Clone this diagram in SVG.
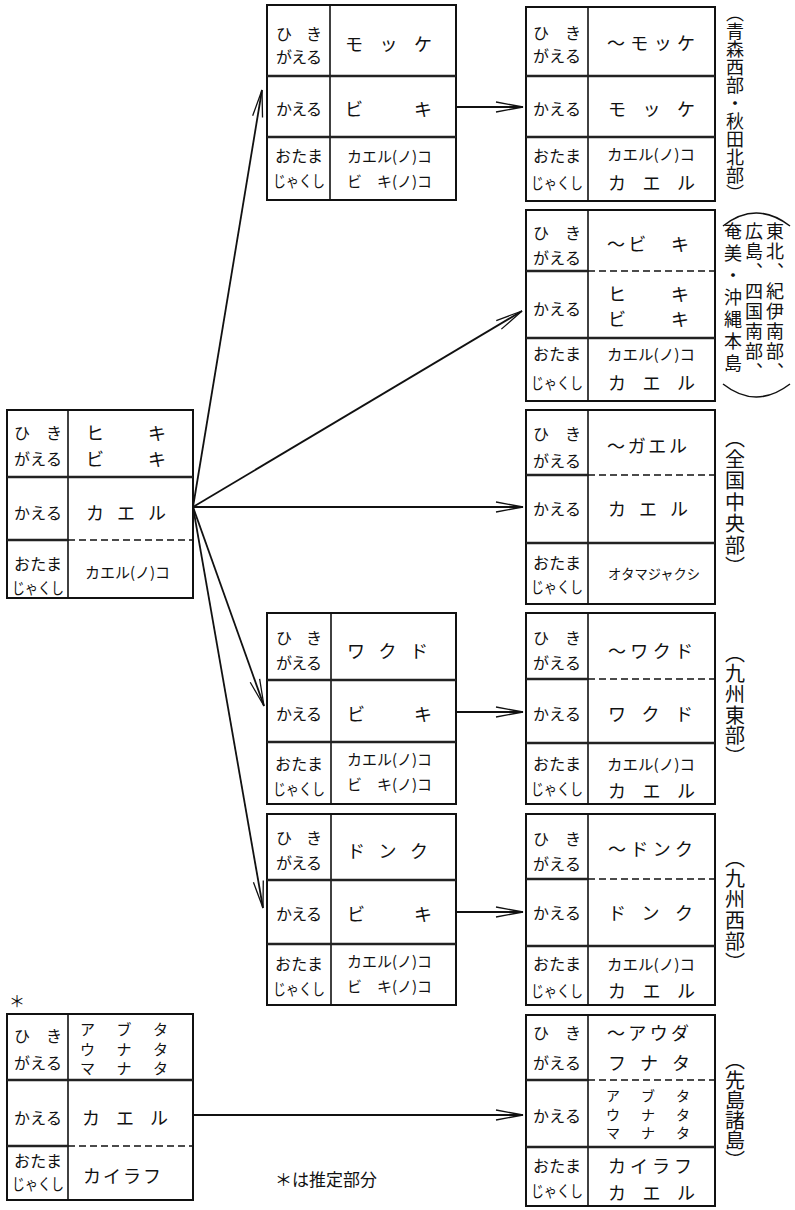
<svg xmlns="http://www.w3.org/2000/svg" width="795" height="1210" viewBox="0 0 795 1210">
<defs>
<marker id="ah" viewBox="-30 -7 32 14" refX="0" refY="0" markerWidth="32" markerHeight="14" markerUnits="userSpaceOnUse" orient="auto">
<path d="M-27,-5 L0,0 L-27,5" fill="none" stroke="#111" stroke-width="1.3"/>
</marker>
<style>
text{font-family:"Noto Sans CJK JP","Noto Sans CJK SC",sans-serif;fill:#111;dominant-baseline:central}
.lb{font-size:16px;text-anchor:middle}
.ct{font-size:18px}
.sm{font-size:15px}
.xs{font-size:14px}
.tn{font-size:14px}
.vt{font-size:20px;writing-mode:vertical-rl;text-anchor:start}
.v2{font-size:18px;letter-spacing:2px}
.box{fill:#fff;stroke:#111;stroke-width:2}
.sep{stroke:#222;stroke-width:2.4}
.dv{stroke:#111;stroke-width:1.6}
.ds{stroke:#111;stroke-width:1.5;stroke-dasharray:7 4}
.con{stroke:#111;stroke-width:1.8;fill:none;marker-end:url(#ah)}
.arc{stroke:#111;stroke-width:1.5;fill:none}
</style>
</defs>

<g id="connectors">
<line class="con" x1="193" y1="507" x2="262" y2="90"/>
<line class="con" x1="193" y1="507" x2="522" y2="311"/>
<line class="con" x1="193" y1="507" x2="523" y2="507"/>
<line class="con" x1="193" y1="507" x2="264" y2="706"/>
<line class="con" x1="193" y1="507" x2="263" y2="908"/>
<line class="con" x1="456" y1="107" x2="523" y2="107"/>
<line class="con" x1="456" y1="712" x2="523" y2="712"/>
<line class="con" x1="456" y1="912" x2="523" y2="912"/>
<line class="con" x1="193" y1="1115" x2="523" y2="1115"/>
</g>

<!-- Left main node -->
<g id="node-left-main">
<rect class="box" x="7" y="410" width="186" height="188"/>
<line class="dv" x1="68" y1="410" x2="68" y2="598"/>
<line class="sep" x1="7" y1="477" x2="193" y2="477"/>
<line class="sep" x1="7" y1="540" x2="68" y2="540"/>
<line class="ds" x1="68" y1="540" x2="193" y2="540"/>
<text class="lb" x="38" y="432" textLength="48" lengthAdjust="spacing">ひき</text>
<text class="lb" x="38" y="458" textLength="48">がえる</text>
<text class="lb" x="38" y="512" textLength="48">かえる</text>
<text class="lb" x="38" y="563" textLength="48">おたま</text>
<text class="lb" x="38" y="587" textLength="52" lengthAdjust="spacingAndGlyphs">じゃくし</text>
<text class="ct" x="86" y="432" textLength="80" lengthAdjust="spacing">ヒキ</text>
<text class="ct" x="86" y="458" textLength="80" lengthAdjust="spacing">ビキ</text>
<text class="ct" x="86" y="512" textLength="80" lengthAdjust="spacing">カエル</text>
<text class="sm" x="85" y="571" textLength="85" lengthAdjust="spacingAndGlyphs">カエル(ノ)コ</text>
</g>

<!-- Middle nodes -->
<g id="node-mid-mokke">
<rect class="box" x="267" y="5" width="189" height="195"/>
<line class="dv" x1="330" y1="5" x2="330" y2="200"/>
<line class="sep" x1="267" y1="76" x2="456" y2="76"/>
<line class="sep" x1="267" y1="137" x2="456" y2="137"/>
<text class="lb" x="299" y="33" textLength="46" lengthAdjust="spacing">ひき</text>
<text class="lb" x="299" y="56" textLength="46">がえる</text>
<text class="lb" x="299" y="108" textLength="46">かえる</text>
<text class="lb" x="299" y="155" textLength="48">おたま</text>
<text class="lb" x="299" y="180" textLength="52" lengthAdjust="spacingAndGlyphs">じゃくし</text>
<text class="ct" x="345" y="43" textLength="87" lengthAdjust="spacing">モッケ</text>
<text class="ct" x="345" y="108" textLength="87" lengthAdjust="spacing">ビキ</text>
<text class="sm" x="347" y="155" textLength="85" lengthAdjust="spacingAndGlyphs">カエル(ノ)コ</text>
<text class="sm" x="347" y="180" textLength="85" lengthAdjust="spacingAndGlyphs">ビ　キ(ノ)コ</text>
</g>

<g id="node-mid-wakudo">
<rect class="box" x="267" y="613" width="189" height="191"/>
<line class="dv" x1="331" y1="613" x2="331" y2="804"/>
<line class="sep" x1="267" y1="680" x2="456" y2="680"/>
<line class="sep" x1="267" y1="742" x2="456" y2="742"/>
<text class="lb" x="299" y="637" textLength="46" lengthAdjust="spacing">ひき</text>
<text class="lb" x="299" y="662" textLength="46">がえる</text>
<text class="lb" x="299" y="713" textLength="46">かえる</text>
<text class="lb" x="299" y="763" textLength="48">おたま</text>
<text class="lb" x="299" y="788" textLength="52" lengthAdjust="spacingAndGlyphs">じゃくし</text>
<text class="ct" x="347" y="650" textLength="81" lengthAdjust="spacing">ワクド</text>
<text class="ct" x="347" y="713" textLength="85" lengthAdjust="spacing">ビキ</text>
<text class="sm" x="347" y="758" textLength="85" lengthAdjust="spacingAndGlyphs">カエル(ノ)コ</text>
<text class="sm" x="347" y="783" textLength="85" lengthAdjust="spacingAndGlyphs">ビ　キ(ノ)コ</text>
</g>

<g id="node-mid-donku">
<rect class="box" x="267" y="814" width="189" height="191"/>
<line class="dv" x1="331" y1="814" x2="331" y2="1005"/>
<line class="sep" x1="267" y1="880" x2="456" y2="880"/>
<line class="sep" x1="267" y1="944" x2="456" y2="944"/>
<text class="lb" x="299" y="837" textLength="46" lengthAdjust="spacing">ひき</text>
<text class="lb" x="299" y="862" textLength="46">がえる</text>
<text class="lb" x="299" y="913" textLength="46">かえる</text>
<text class="lb" x="299" y="963" textLength="48">おたま</text>
<text class="lb" x="299" y="988" textLength="52" lengthAdjust="spacingAndGlyphs">じゃくし</text>
<text class="ct" x="347" y="850" textLength="81" lengthAdjust="spacing">ドンク</text>
<text class="ct" x="347" y="913" textLength="85" lengthAdjust="spacing">ビキ</text>
<text class="sm" x="347" y="960" textLength="85" lengthAdjust="spacingAndGlyphs">カエル(ノ)コ</text>
<text class="sm" x="347" y="985" textLength="85" lengthAdjust="spacingAndGlyphs">ビ　キ(ノ)コ</text>
</g>

<!-- Right nodes -->
<g id="node-right-mokke">
<rect class="box" x="526" y="7" width="189" height="194"/>
<line class="dv" x1="588" y1="7" x2="588" y2="201"/>
<line class="sep" x1="526" y1="76" x2="715" y2="76"/>
<line class="sep" x1="526" y1="137" x2="715" y2="137"/>
<text class="lb" x="557" y="32" textLength="48" lengthAdjust="spacing">ひき</text>
<text class="lb" x="557" y="55" textLength="48">がえる</text>
<text class="lb" x="557" y="108" textLength="48">かえる</text>
<text class="lb" x="557" y="155" textLength="48">おたま</text>
<text class="lb" x="557" y="182" textLength="52" lengthAdjust="spacingAndGlyphs">じゃくし</text>
<text class="ct" x="607" y="42" textLength="88" lengthAdjust="spacing">〜モッケ</text>
<text class="ct" x="608" y="108" textLength="87" lengthAdjust="spacing">モッケ</text>
<text class="sm" x="607" y="153" textLength="88" lengthAdjust="spacingAndGlyphs">カエル(ノ)コ</text>
<text class="ct" x="608" y="182" textLength="87" lengthAdjust="spacing">カエル</text>
<text class="vt" x="735" y="4" style="font-size:18px">（青森西部・秋田北部）</text>
</g>

<g id="node-right-biki">
<rect class="box" x="526" y="210" width="189" height="191"/>
<line class="dv" x1="588" y1="210" x2="588" y2="401"/>
<line class="sep" x1="526" y1="271" x2="588" y2="271"/>
<line class="ds" x1="588" y1="271" x2="715" y2="271"/>
<line class="sep" x1="526" y1="338" x2="715" y2="338"/>
<text class="lb" x="557" y="232" textLength="48" lengthAdjust="spacing">ひき</text>
<text class="lb" x="557" y="257" textLength="48">がえる</text>
<text class="lb" x="557" y="308" textLength="48">かえる</text>
<text class="lb" x="557" y="353" textLength="48">おたま</text>
<text class="lb" x="557" y="382" textLength="52" lengthAdjust="spacingAndGlyphs">じゃくし</text>
<text class="ct" x="607" y="243" textLength="82" lengthAdjust="spacing">〜ビ　キ</text>
<text class="ct" x="608" y="293" textLength="81" lengthAdjust="spacing">ヒキ</text>
<text class="ct" x="608" y="318" textLength="81" lengthAdjust="spacing">ビキ</text>
<text class="sm" x="607" y="353" textLength="88" lengthAdjust="spacingAndGlyphs">カエル(ノ)コ</text>
<text class="ct" x="608" y="382" textLength="87" lengthAdjust="spacing">カエル</text>
<path class="arc" d="M723,226 Q756,200 790,226"/>
<path class="arc" d="M723,384 Q756,410 790,384"/>
<text class="vt v2" x="775" y="222">東北、紀伊南部、</text>
<text class="vt v2" x="754" y="222">広島、四国南部、</text>
<text class="vt v2" x="733" y="222" style="letter-spacing:4px">奄美・沖縄本島</text>
</g>

<g id="node-right-gaeru">
<rect class="box" x="526" y="410" width="189" height="194"/>
<line class="dv" x1="588" y1="410" x2="588" y2="604"/>
<line class="sep" x1="526" y1="475" x2="588" y2="475"/>
<line class="ds" x1="588" y1="475" x2="715" y2="475"/>
<line class="sep" x1="526" y1="543" x2="715" y2="543"/>
<text class="lb" x="557" y="433" textLength="48" lengthAdjust="spacing">ひき</text>
<text class="lb" x="557" y="460" textLength="48">がえる</text>
<text class="lb" x="557" y="508" textLength="48">かえる</text>
<text class="lb" x="557" y="562" textLength="48">おたま</text>
<text class="lb" x="557" y="586" textLength="52" lengthAdjust="spacingAndGlyphs">じゃくし</text>
<text class="ct" x="607" y="445" textLength="80" lengthAdjust="spacing">〜ガエル</text>
<text class="ct" x="608" y="508" textLength="80" lengthAdjust="spacing">カエル</text>
<text class="xs" x="608" y="573" textLength="92" lengthAdjust="spacingAndGlyphs">オタマジャクシ</text>
<text class="vt" x="735" y="428" style="letter-spacing:1.4px">（全国中央部）</text>
</g>

<g id="node-right-wakudo">
<rect class="box" x="526" y="613" width="189" height="191"/>
<line class="dv" x1="588" y1="613" x2="588" y2="804"/>
<line class="sep" x1="526" y1="679" x2="588" y2="679"/>
<line class="ds" x1="588" y1="679" x2="715" y2="679"/>
<line class="sep" x1="526" y1="743" x2="715" y2="743"/>
<text class="lb" x="557" y="637" textLength="48" lengthAdjust="spacing">ひき</text>
<text class="lb" x="557" y="662" textLength="48">がえる</text>
<text class="lb" x="557" y="713" textLength="48">かえる</text>
<text class="lb" x="557" y="763" textLength="48">おたま</text>
<text class="lb" x="557" y="788" textLength="52" lengthAdjust="spacingAndGlyphs">じゃくし</text>
<text class="ct" x="608" y="650" textLength="85" lengthAdjust="spacing">〜ワクド</text>
<text class="ct" x="608" y="713" textLength="85" lengthAdjust="spacing">ワクド</text>
<text class="sm" x="607" y="763" textLength="88" lengthAdjust="spacingAndGlyphs">カエル(ノ)コ</text>
<text class="ct" x="608" y="790" textLength="87" lengthAdjust="spacing">カエル</text>
<text class="vt" x="735" y="643" style="letter-spacing:0.7px">（九州東部）</text>
</g>

<g id="node-right-donku">
<rect class="box" x="526" y="814" width="189" height="191"/>
<line class="dv" x1="588" y1="814" x2="588" y2="1005"/>
<line class="sep" x1="526" y1="879" x2="588" y2="879"/>
<line class="ds" x1="588" y1="879" x2="715" y2="879"/>
<line class="sep" x1="526" y1="946" x2="715" y2="946"/>
<text class="lb" x="557" y="838" textLength="48" lengthAdjust="spacing">ひき</text>
<text class="lb" x="557" y="863" textLength="48">がえる</text>
<text class="lb" x="557" y="912" textLength="48">かえる</text>
<text class="lb" x="557" y="963" textLength="48">おたま</text>
<text class="lb" x="557" y="990" textLength="52" lengthAdjust="spacingAndGlyphs">じゃくし</text>
<text class="ct" x="608" y="848" textLength="85" lengthAdjust="spacing">〜ドンク</text>
<text class="ct" x="608" y="912" textLength="85" lengthAdjust="spacing">ドンク</text>
<text class="sm" x="607" y="963" textLength="88" lengthAdjust="spacingAndGlyphs">カエル(ノ)コ</text>
<text class="ct" x="608" y="990" textLength="87" lengthAdjust="spacing">カエル</text>
<text class="vt" x="735" y="848" style="letter-spacing:0.8px">（九州西部）</text>
</g>

<g id="node-right-auda">
<rect class="box" x="526" y="1015" width="189" height="191"/>
<line class="dv" x1="588" y1="1015" x2="588" y2="1206"/>
<line class="sep" x1="526" y1="1080" x2="588" y2="1080"/>
<line class="ds" x1="588" y1="1080" x2="715" y2="1080"/>
<line class="sep" x1="526" y1="1147" x2="715" y2="1147"/>
<text class="lb" x="557" y="1032" textLength="48" lengthAdjust="spacing">ひき</text>
<text class="lb" x="557" y="1062" textLength="48">がえる</text>
<text class="lb" x="557" y="1115" textLength="48">かえる</text>
<text class="lb" x="557" y="1165" textLength="48">おたま</text>
<text class="lb" x="557" y="1190" textLength="52" lengthAdjust="spacingAndGlyphs">じゃくし</text>
<text class="ct" x="607" y="1032" textLength="82" lengthAdjust="spacing">〜アウダ</text>
<text class="ct" x="608" y="1062" textLength="82" lengthAdjust="spacing">フナタ</text>
<text class="tn" x="606" y="1095" textLength="84" lengthAdjust="spacing">アブタ</text>
<text class="tn" x="606" y="1113.5" textLength="84" lengthAdjust="spacing">ウナタ</text>
<text class="tn" x="606" y="1132" textLength="84" lengthAdjust="spacing">マナタ</text>
<text class="ct" x="608" y="1165" textLength="84" lengthAdjust="spacing">カイラフ</text>
<text class="ct" x="608" y="1192" textLength="87" lengthAdjust="spacing">カエル</text>
<text class="vt" x="735" y="1050">（先島諸島）</text>
</g>

<!-- Bottom-left node -->
<g id="node-left-sakishima">
<text x="9" y="1000" style="font-size:16px">＊</text>
<rect class="box" x="7" y="1014" width="186" height="186"/>
<line class="dv" x1="68" y1="1014" x2="68" y2="1200"/>
<line class="sep" x1="7" y1="1080" x2="193" y2="1080"/>
<line class="sep" x1="7" y1="1146" x2="68" y2="1146"/>
<line class="ds" x1="68" y1="1146" x2="193" y2="1146"/>
<text class="lb" x="38" y="1035" textLength="48" lengthAdjust="spacing">ひき</text>
<text class="lb" x="38" y="1062" textLength="48">がえる</text>
<text class="lb" x="38" y="1117" textLength="48">かえる</text>
<text class="lb" x="38" y="1160" textLength="48">おたま</text>
<text class="lb" x="38" y="1183" textLength="52" lengthAdjust="spacingAndGlyphs">じゃくし</text>
<text class="sm" x="80" y="1028" textLength="88" lengthAdjust="spacing">アブタ</text>
<text class="sm" x="80" y="1048" textLength="88" lengthAdjust="spacing">ウナタ</text>
<text class="sm" x="80" y="1067" textLength="88" lengthAdjust="spacing">マナタ</text>
<text class="ct" x="82" y="1117" textLength="86" lengthAdjust="spacing">カエル</text>
<text class="ct" x="83" y="1175" textLength="78" lengthAdjust="spacing">カイラフ</text>
</g>

<g id="footnote">
<text x="275" y="1178" style="font-size:17px">＊は推定部分</text>
</g>
</svg>
